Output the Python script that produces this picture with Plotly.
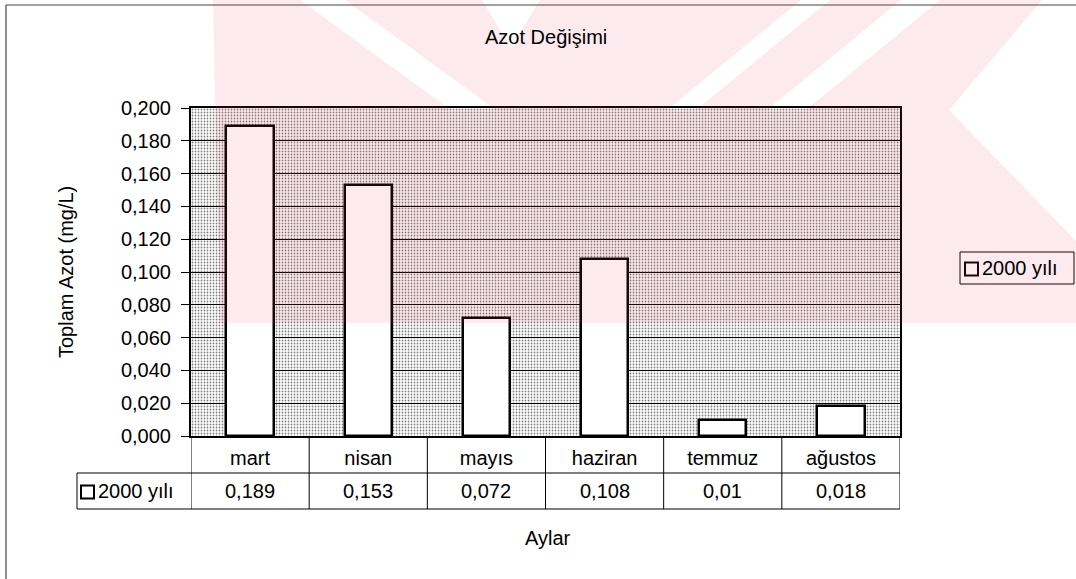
import plotly.graph_objects as go

# --- data -------------------------------------------------------------
months = ["mart", "nisan", "mayıs", "haziran", "temmuz", "ağustos"]
azot_2000 = [0.189, 0.153, 0.072, 0.108, 0.01, 0.018]
series_name = "2000 yılı"
y_ticks = [0.0, 0.02, 0.04, 0.06, 0.08, 0.10, 0.12, 0.14, 0.16, 0.18, 0.20]
Y_MAX = 0.20

# --- layout geometry (pixels) -----------------------------------------
W, H = 1076, 579
PL, PR, PT, PB = 191, 900, 108, 436          # plot area box
FONT = "Liberation Sans, Arial, sans-serif"


def px(x):
    """pixel x -> paper x"""
    return (x - PL) / (PR - PL)


def py(y):
    """pixel y -> paper y"""
    return (PB - y) / (PB - PT)


def fmt(v):
    return f"{v}".replace(".", ",")


def key_box(x0, yc, size=13):
    """small white square used as the series key"""
    return dict(type="rect", xref="paper", yref="paper",
                x0=px(x0), x1=px(x0 + size),
                y0=py(yc - size / 2), y1=py(yc + size / 2),
                line=dict(color="#000", width=2), fillcolor="#ffffff")


xs = list(range(len(months)))
fig = go.Figure()

# dotted plot-area fill, spanning the whole category range
fig.add_trace(go.Bar(
    x=[(len(months) - 1) / 2], y=[Y_MAX], width=[len(months)],
    marker=dict(color="rgba(0,0,0,0)", line=dict(width=0),
                pattern=dict(shape=".", size=3, solidity=0.27,
                             fgcolor="#000000")),
    hoverinfo="skip", showlegend=False,
))

# monthly bars
fig.add_trace(go.Bar(
    x=xs, y=azot_2000, width=0.4, name=series_name,
    marker=dict(color="#ffffff", line=dict(color="#000000", width=2.5)),
    showlegend=False,
))

shapes = []
annotations = []
txt = dict(size=20, family=FONT, color="#000")

# data table under the axis
tbl_mid, tbl_bot, key_left = 473, 509, 77
line = dict(color="#000000", width=1)
for y_line in (tbl_mid, tbl_bot):
    shapes.append(dict(type="line", xref="paper", yref="paper",
                       x0=px(key_left), x1=1, y0=py(y_line), y1=py(y_line),
                       line=line))
for i in range(len(months) + 1):
    shapes.append(dict(type="line", xref="x", yref="paper",
                       x0=i - 0.5, x1=i - 0.5, y0=0, y1=py(tbl_bot),
                       line=line))
shapes.append(dict(type="line", xref="paper", yref="paper",
                   x0=px(key_left), x1=px(key_left),
                   y0=py(tbl_mid), y1=py(tbl_bot), line=line))

row_c = (tbl_mid + tbl_bot) / 2
for i, v in enumerate(azot_2000):
    annotations.append(dict(x=i, xref="x", y=py(row_c), yref="paper",
                            text=fmt(v), showarrow=False, font=txt,
                            xanchor="center", yanchor="middle"))
shapes.append(key_box(81, row_c + 1))
annotations.append(dict(x=px(96), xref="paper", y=py(row_c), yref="paper",
                        text=series_name, showarrow=False, font=txt,
                        xanchor="left", yanchor="middle"))

# legend box on the right
shapes.append(dict(type="rect", xref="paper", yref="paper",
                   x0=px(960), x1=px(1074), y0=py(252), y1=py(284),
                   line=dict(color="#000", width=1), fillcolor="#ffffff"))
shapes.append(key_box(965, 269))
annotations.append(dict(x=px(980), xref="paper", y=py(268), yref="paper",
                        text=series_name, showarrow=False, font=txt,
                        xanchor="left", yanchor="middle"))

# titles
annotations.append(dict(x=px(546), xref="paper", y=py(37), yref="paper",
                        text="Azot Değişimi", showarrow=False, font=txt,
                        xanchor="center", yanchor="middle"))
annotations.append(dict(x=px(548), xref="paper", y=py(538), yref="paper",
                        text="Aylar", showarrow=False, font=txt,
                        xanchor="center", yanchor="middle"))
annotations.append(dict(x=px(66), xref="paper", y=py(272), yref="paper",
                        text="Toplam Azot (mg/L)", showarrow=False,
                        textangle=-90, font=txt,
                        xanchor="center", yanchor="middle"))

# outer chart frame (top and left edges)
shapes.append(dict(type="line", xref="paper", yref="paper",
                   x0=px(6), x1=px(W), y0=py(5), y1=py(5),
                   line=dict(color="#444", width=1.2)))
shapes.append(dict(type="line", xref="paper", yref="paper",
                   x0=px(6), x1=px(6), y0=py(5), y1=py(H),
                   line=dict(color="#444", width=1.2)))

# faint pink watermark over the upper part of the page:
# one outer outline, with white diagonal slits cut out (even-odd fill)
outline = [(213, 0), (482, 0), (511, 48), (540, 0), (1042, 0), (949, 110),
           (1076, 241), (1076, 323), (220, 323)]
slits = [
    [(300, 0), (345, 0), (496, 110), (451, 110)],
    [(801, 0), (830, 0), (696, 110), (667, 110)],
    [(901, 0), (940, 0), (806, 110), (767, 110)],
]
path = ""
for poly in [outline] + slits:
    pts = [f"{px(a):.5f},{py(b):.5f}" for a, b in poly]
    path += "M" + " L".join(pts) + " Z "
shapes.append(dict(type="path", xref="paper", yref="paper", path=path,
                   fillrule="evenodd",
                   fillcolor="rgb(235,60,100)", opacity=0.11,
                   line=dict(width=0), layer="above"))

fig.update_layout(
    width=W, height=H,
    margin=dict(l=PL, r=W - PR, t=PT, b=H - PB, pad=0),
    paper_bgcolor="#ffffff", plot_bgcolor="#ffffff",
    barmode="overlay", bargap=0,
    separators=",.",
    font=dict(family=FONT, size=20, color="#000"),
    shapes=shapes, annotations=annotations,
    showlegend=False,
)
fig.update_xaxes(
    range=[-0.5, len(months) - 0.5], tickvals=xs, ticktext=months,
    showgrid=False, zeroline=False, ticks="",
    showline=True, linecolor="#000", linewidth=2, mirror=True,
    tickfont=txt, ticklabelstandoff=3,
)
fig.update_yaxes(
    range=[0, Y_MAX], tickvals=y_ticks, tickformat=".3f",
    showgrid=True, gridcolor="#000", gridwidth=1, zeroline=False,
    showline=True, linecolor="#000", linewidth=2, mirror=True,
    ticks="outside", ticklen=8, tickwidth=1, tickcolor="#000",
    tickfont=txt, ticklabelstandoff=6,
)

fig.write_html("out.html")
